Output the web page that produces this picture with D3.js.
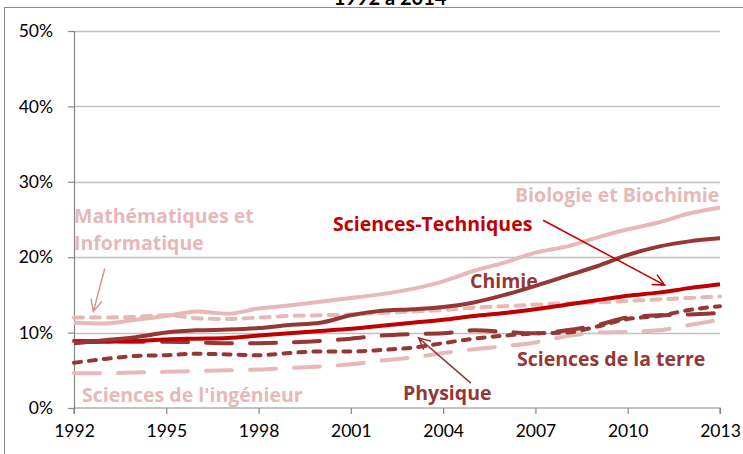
<!DOCTYPE html>
<html>
  <head>
    <script src="https://d3js.org/d3.v7.min.js"></script>
    <style>
      body { margin: 0; background: #fff; }
      .lbl { font-family: "Open Sans", sans-serif; font-weight: bold; font-size: 19.5px; }
    </style>
  </head>
  <body>
    <svg width="743" height="454"></svg>
    <script>
      // data (percent), one value per year 1992..2013
      const years = d3.range(1992, 2014);
      const biologie = [11.3, 11.2, 11.7, 12.2, 12.8, 12.5, 13.2, 13.6, 14.1, 14.6, 15.1, 15.8, 16.8, 18.2, 19.3, 20.6, 21.4, 22.6, 23.7, 24.6, 25.8, 26.6];
      const chimie = [8.6, 9.0, 9.4, 10.0, 10.3, 10.4, 10.6, 11.0, 11.3, 12.3, 12.9, 13.1, 13.4, 14.0, 15.0, 16.2, 17.5, 18.8, 20.3, 21.4, 22.1, 22.5];
      const sciTech = [8.7, 8.8, 8.9, 9.1, 9.2, 9.3, 9.6, 9.9, 10.2, 10.5, 10.9, 11.3, 11.7, 12.2, 12.6, 13.1, 13.7, 14.3, 14.9, 15.3, 15.9, 16.4];
      const mathInfo = [12.0, 12.0, 12.1, 12.3, 11.9, 11.8, 12.0, 12.2, 12.3, 12.4, 12.6, 12.8, 13.0, 13.3, 13.5, 13.7, 13.9, 14.0, 14.2, 14.4, 14.6, 14.8];
      const physique = [8.9, 8.9, 8.8, 8.8, 8.7, 8.6, 8.6, 8.7, 8.9, 9.2, 9.6, 9.8, 9.9, 10.3, 10.1, 9.9, 10.3, 11.0, 12.0, 12.3, 12.4, 12.6];
      const terre = [6.0, 6.5, 6.9, 7.0, 7.2, 7.1, 7.0, 7.3, 7.5, 7.5, 7.7, 8.0, 8.6, 9.2, 9.6, 9.9, 10.0, 10.8, 11.8, 12.2, 13.0, 13.5];
      const ingenieur = [4.6, 4.6, 4.7, 4.8, 4.9, 5.0, 5.1, 5.3, 5.5, 5.8, 6.3, 6.7, 7.3, 7.8, 8.2, 8.7, 9.5, 10.0, 10.1, 10.3, 11.0, 11.7];
      const yTicks = [0, 10, 20, 30, 40, 50];
      const xTicks = [1992, 1995, 1998, 2001, 2004, 2007, 2010, 2013];

      const light = "#E6B9B8";
      const dark = "#953735";
      const red = "#C00000";

      const series = [
        { values: ingenieur, color: light, dash: "26,18" },
        { values: terre, color: dark, dash: "7,8" },
        { values: physique, color: dark, dash: "26,18" },
        { values: mathInfo, color: light, dash: "9,8" },
        { values: biologie, color: light, dash: null },
        { values: sciTech, color: red, dash: null },
        { values: chimie, color: dark, dash: null }
      ];

      const svg = d3.select("svg");
      const x = d3.scaleLinear().domain([1992, 2013]).range([74, 720]);
      const y = d3.scaleLinear().domain([0, 50]).range([408, 31]);

      // outer frame and cut-off title
      svg.append("rect")
        .attr("x", 4.5).attr("y", 7.5)
        .attr("width", 750).attr("height", 460)
        .attr("fill", "none").attr("stroke", "#8c8c8c");
      svg.append("text")
        .attr("x", 390).attr("y", 4.5)
        .attr("text-anchor", "middle")
        .attr("font-family", "Lato, sans-serif")
        .attr("font-weight", "bold")
        .attr("font-size", 20)
        .text("1992 à 2014");

      // gridlines
      svg.append("g")
        .selectAll("line")
        .data(yTicks.filter(d => d > 0))
        .join("line")
          .attr("x1", x(1992)).attr("x2", x(2013))
          .attr("y1", d => Math.round(y(d)) + 0.5)
          .attr("y2", d => Math.round(y(d)) + 0.5)
          .attr("stroke", "#c0c0c0")
          .attr("stroke-width", 1.5);

      const yAxis = svg.append("g")
        .attr("transform", `translate(${x(1992)},0)`)
        .call(d3.axisLeft(y).tickValues(yTicks).tickFormat(d => d + "%").tickSize(6).tickPadding(15));
      const xAxis = svg.append("g")
        .attr("transform", `translate(0,${y(0)})`)
        .call(d3.axisBottom(x).tickValues(xTicks).tickFormat(d3.format("d")).tickSize(6).tickPadding(11));
      [yAxis, xAxis].forEach(g => {
        g.select(".domain").attr("stroke", "#868686").attr("stroke-width", 1.2);
        g.selectAll(".tick line").attr("stroke", "#868686").attr("stroke-width", 1.2);
        g.selectAll(".tick text").attr("font-family", "Lato, sans-serif").attr("font-size", 17.5).attr("fill", "#000");
      });
      xAxis.select(".domain").attr("d", `M${x(1992)},6V0H${x(2013)}V6`);

      const line = d3.line()
        .x((d, i) => x(years[i]))
        .y(d => y(d))
        .curve(d3.curveMonotoneX);

      svg.append("g")
        .selectAll("path")
        .data(series)
        .join("path")
          .attr("d", d => line(d.values))
          .attr("fill", "none")
          .attr("stroke", d => d.color)
          .attr("stroke-width", 4)
          .attr("stroke-linecap", d => d.dash ? "round" : "butt")
          .attr("stroke-dasharray", d => d.dash);

      // labels
      const labels = [
        { text: "Mathématiques et", x: 74, y: 223, color: light },
        { text: "Informatique", x: 74, y: 250, color: light },
        { text: "Sciences-Techniques", x: 333, y: 231, color: red },
        { text: "Biologie et Biochimie", x: 515, y: 202, color: light },
        { text: "Chimie", x: 470, y: 288, color: dark },
        { text: "Sciences de la terre", x: 517, y: 366, color: dark },
        { text: "Physique", x: 403, y: 400, color: dark },
        { text: "Sciences de l'ingénieur", x: 82, y: 402, color: light }
      ];
      svg.append("g")
        .selectAll("text")
        .data(labels)
        .join("text")
          .attr("class", "lbl")
          .attr("x", d => d.x).attr("y", d => d.y)
          .attr("fill", d => d.color)
          .text(d => d.text);

      // arrows: [fromYear, fromValue, toYear, toValue]
      const arrows = [
        { from: [1993.0, 18.5], to: [1992.63, 12.8], color: "#d99694" },
        { from: [2007.25, 24.9], to: [2011.2, 16.3], color: red },
        { from: [2004.9, 3.3], to: [2003.2, 9.3], color: dark }
      ];
      const ag = svg.append("g").attr("fill", "none").attr("stroke-width", 1.5);
      arrows.forEach(a => {
        const x0 = x(a.from[0]), y0 = y(a.from[1]);
        const x1 = x(a.to[0]), y1 = y(a.to[1]);
        const ang = Math.atan2(y1 - y0, x1 - x0);
        const len = 13, spread = Math.PI / 7;
        const w1 = [x1 - len * Math.cos(ang - spread), y1 - len * Math.sin(ang - spread)];
        const w2 = [x1 - len * Math.cos(ang + spread), y1 - len * Math.sin(ang + spread)];
        ag.append("path")
          .attr("d", `M${x0},${y0}L${x1},${y1}M${w1}L${x1},${y1}L${w2}`)
          .attr("stroke", a.color);
      });
    </script>
  </body>
</html>
